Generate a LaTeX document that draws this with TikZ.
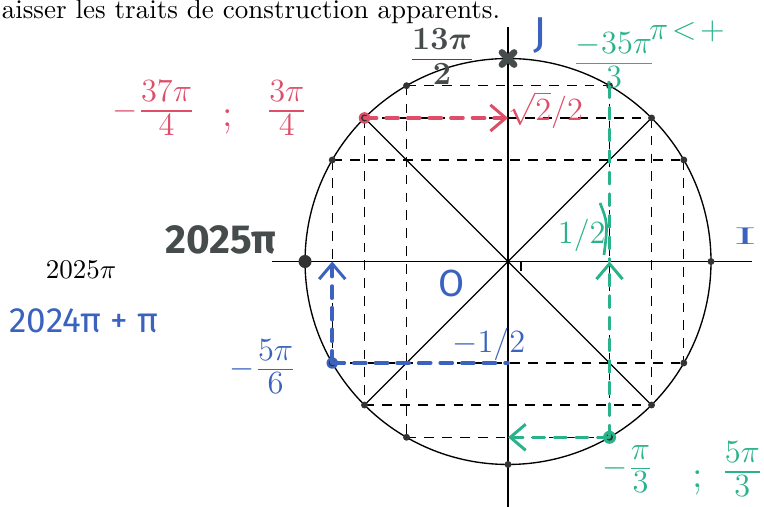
\documentclass[tikz,border=0pt]{standalone}
\usepackage{amsmath,amssymb}
\usepackage{fontspec}
\usepackage{xcolor}
\usepackage{tikz}
\usetikzlibrary{arrows.meta}

\newfontfamily\handfont{Fira Sans}
\definecolor{redpen}{RGB}{222,78,104}
\definecolor{bluepen}{RGB}{58,98,190}
\definecolor{greenpen}{RGB}{42,178,138}
\definecolor{markpen}{RGB}{70,76,76}
% compact fraction, as written by hand
\newcommand{\hfrac}[2]{\frac{\raisebox{1.8pt}{$\textstyle #1$}}{\raisebox{-1.8pt}{$\textstyle #2$}}}

\tikzset{
  construct/.style={dash pattern=on 3.6pt off 3pt, line width=0.5pt},
  pen/.style={line width=1.3pt, dash pattern=on 4.5pt off 3.5pt, line cap=round},
  pentip/.style={-{Straight Barb[length=2mm, width=3.4mm, line width=1.1pt]}}
}

\begin{document}
\begin{tikzpicture}[line width=0.5pt]
  \useasboundingbox (-6.615,-3.184) rectangle (3.333,3.405);
  \def\R{2.643}

  % Points of the circle
  \coordinate (O) at (0,0);
  \foreach \a in {0,30,45,60,90,120,135,150,180,210,225,240,270,300,315,330}
    \coordinate (P\a) at (\a:\R);

  % Axes and circle
  \coordinate (xl) at (-3.07,0);
  \coordinate (xr) at (3.18,0);
  \coordinate (yb) at (0,-3.25);
  \coordinate (yt) at (0,3.05);
  \draw (xl) -- (xr);
  \draw (yb) -- (yt);
  \draw (O) circle (\R);
  \draw (0.17,0) -- (0.17,-0.12);

  % Construction lines (dashed)
  \draw[construct] (P120) -- (P60) (P135) -- (P45) (P150) -- (P30)
                   (P210) -- (P330) (P225) -- (P315) (P240) -- (P300);
  \draw[construct] (P120) -- (P240) (P135) -- (P225) (P150) -- (P210)
                   (P60) -- (P300) (P45) -- (P315) (P30) -- (P330);
  \draw (P135) -- (P315) (P45) -- (P225);

  % Pen marks under the points
  \fill[redpen] (P135) circle (0.075);
  \fill[bluepen] (P210) circle (0.075);
  \fill[greenpen] (P300) circle (0.085);

  % Points
  \foreach \a in {0,30,45,60,120,135,150,210,225,240,270,300,315,330}
    \fill[black!80] (P\a) circle (0.045);
  \fill[black!80] (P180) circle (0.085);
  \draw[markpen, line width=2.4pt, line cap=round]
    (P90) ++(-0.08,-0.08) -- ++(0.16,0.16) (P90) ++(-0.08,0.08) -- ++(0.16,-0.16);

  % Red: 3pi/4
  \draw[redpen, pen, pentip] (P135) -- (P135 -| O);
  \node[redpen, font=\large] (redA) at (-4.61,2.0) {$-\hfrac{37\pi}{4}$};
  \node[redpen, font=\Large] (redsemi) at (-3.65,1.82) {;};
  \node[redpen, font=\large] (redB) at (-2.88,2.0) {$\hfrac{3\pi}{4}$};
  \node[redpen, font=\large] (redsin) at (0.49,1.97) {$\sqrt{2}/2$};

  % Blue: -5pi/6
  \draw[bluepen, pen] (P210) -- (P210 -| O);
  \draw[bluepen, pen, pentip] (P210) -- (P210 |- O);
  \node[bluepen, font=\large] (blueA) at (-3.19,-1.37) {$-\hfrac{5\pi}{6}$};
  \node[bluepen, font=\large] (bluesin) at (-0.25,-1.08) {$-1/2$};
  \node[bluepen, font=\handfont\fontsize{14}{14}\selectfont] (origin) at (-0.73,-0.28) {O};
  \node[bluepen, font=\large] (axisI) at (3.09,0.33) {\scalebox{1.9}[0.75]{I}};
  \node[bluepen, font=\handfont\fontsize{16}{16}\selectfont] (axisJ) at (0.42,2.94) {J};
  \node[bluepen, font=\handfont\fontsize{13}{13}\selectfont] (blueSum) at (-5.52,-0.775) {2024π + π};

  % Green: -pi/3
  \draw[greenpen, pen, line width=1pt, pentip] (P300) -- (P300 -| O);
  \draw[greenpen, pen, line width=1pt, pentip] (P300) -- (P300 |- O);
  \draw[greenpen, pen, line width=0.9pt] (P60) -- (P60 |- O);
  \draw[greenpen, line width=1pt] (1.198,0.762) .. controls (1.30,0.50) .. (1.25,0.085);
  \node[greenpen, font=\large] (greencos) at (0.96,0.345) {$1/2$};
  \node[greenpen, font=\large] (greenA) at (1.56,-2.70) {$-\hfrac{\pi}{3}$};
  \node[greenpen, font=\Large] (greensemi) at (2.47,-2.88) {;};
  \node[greenpen, font=\large] (greenB) at (3.05,-2.70) {$\hfrac{5\pi}{3}$};
  \node[greenpen, font=\large] (greenC) at (1.38,2.62) {$\hfrac{-35\pi}{3}$};
  \node[greenpen, font=\large] (greenD) at (2.33,3.0) {$\pi\!<\!+$};

  % Marker: pi and 13pi/2
  \node[markpen, font=\handfont\bfseries\fontsize{15}{15}\selectfont] (mark2025) at (-3.74,0.28) {2025π};
  \node[markpen, font=\large\boldmath] (markfrac) at (-0.86,2.67) {$\hfrac{13\pi}{2}$};

  % Printed text
  \node[anchor=base west, inner sep=0] (consigne) at (-6.60,3.158) {aisser les traits de construction apparents.};
  \node[anchor=base, inner sep=0] (printed) at (-5.56,-0.228) {$2025\pi$};
\end{tikzpicture}
\end{document}
